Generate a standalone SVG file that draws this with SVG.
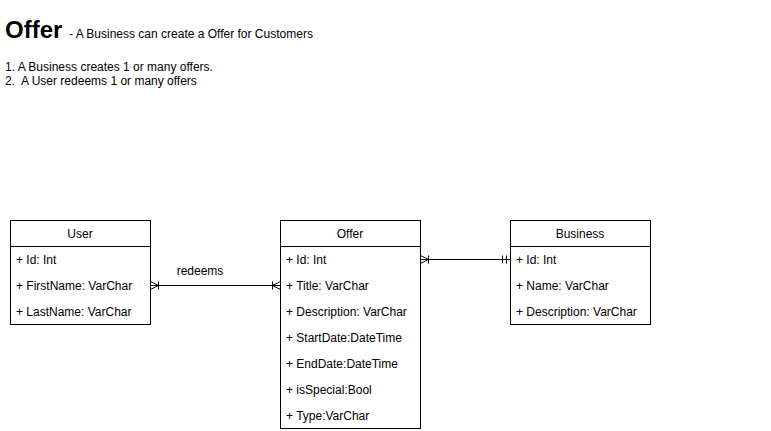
<svg xmlns="http://www.w3.org/2000/svg" width="771" height="431" viewBox="0 0 771 431">
<style>
text{font-family:"Liberation Sans",Arial,Helvetica,sans-serif;font-size:12px;fill:#000}
.box{fill:#fff;stroke:#000;stroke-width:1}
.ln{stroke:#000;stroke-width:1;fill:none}
.hd{text-anchor:middle}
</style>
<rect width="771" height="431" fill="#fff"/>
<g id="title">
<text x="5" y="38" style="font-size:24px;font-weight:bold">Offer</text>
<text x="69" y="38">- A Business can create a Offer for Customers</text>
<text x="5" y="71">1. A Business creates 1 or many offers.</text>
<text x="5" y="85">2.&#160; A User redeems 1 or many offers</text>
</g>
<g id="connectors">
<path class="ln" d="M150.5 285.5H280.5"/>
<path class="ln" d="M150.5 281.5L158.5 285.5L150.5 289.5M158.5 281.5V289.5"/>
<path class="ln" d="M280.5 281.5L272.5 285.5L280.5 289.5M272.5 281.5V289.5"/>
<text x="200" y="275" class="hd">redeems</text>
<path class="ln" d="M420.5 259.5H510.5"/>
<path class="ln" d="M420.5 255.5L428.5 259.5L420.5 263.5M428.5 255.5V263.5"/>
<path class="ln" d="M502.5 255.5V263.5M506.5 255.5V263.5"/>
</g>
<g id="user">
<rect class="box" x="10.5" y="220.5" width="140" height="104"/>
<path class="ln" d="M10.5 246.5H150.5"/>
<text x="80" y="238" class="hd">User</text>
<text x="16" y="264">+ Id: Int</text>
<text x="16" y="290">+ FirstName: VarChar</text>
<text x="16" y="316">+ LastName: VarChar</text>
</g>
<g id="offer">
<rect class="box" x="280.5" y="220.5" width="140" height="208"/>
<path class="ln" d="M280.5 246.5H420.5"/>
<text x="350" y="238" class="hd">Offer</text>
<text x="286" y="264">+ Id: Int</text>
<text x="286" y="290">+ Title: VarChar</text>
<text x="286" y="316">+ Description: VarChar</text>
<text x="286" y="342">+ StartDate:DateTime</text>
<text x="286" y="368">+ EndDate:DateTime</text>
<text x="286" y="394">+ isSpecial:Bool</text>
<text x="286" y="420">+ Type:VarChar</text>
</g>
<g id="business">
<rect class="box" x="510.5" y="220.5" width="140" height="104"/>
<path class="ln" d="M510.5 246.5H650.5"/>
<text x="580" y="238" class="hd">Business</text>
<text x="516" y="264">+ Id: Int</text>
<text x="516" y="290">+ Name: VarChar</text>
<text x="516" y="316">+ Description: VarChar</text>
</g>
</svg>
